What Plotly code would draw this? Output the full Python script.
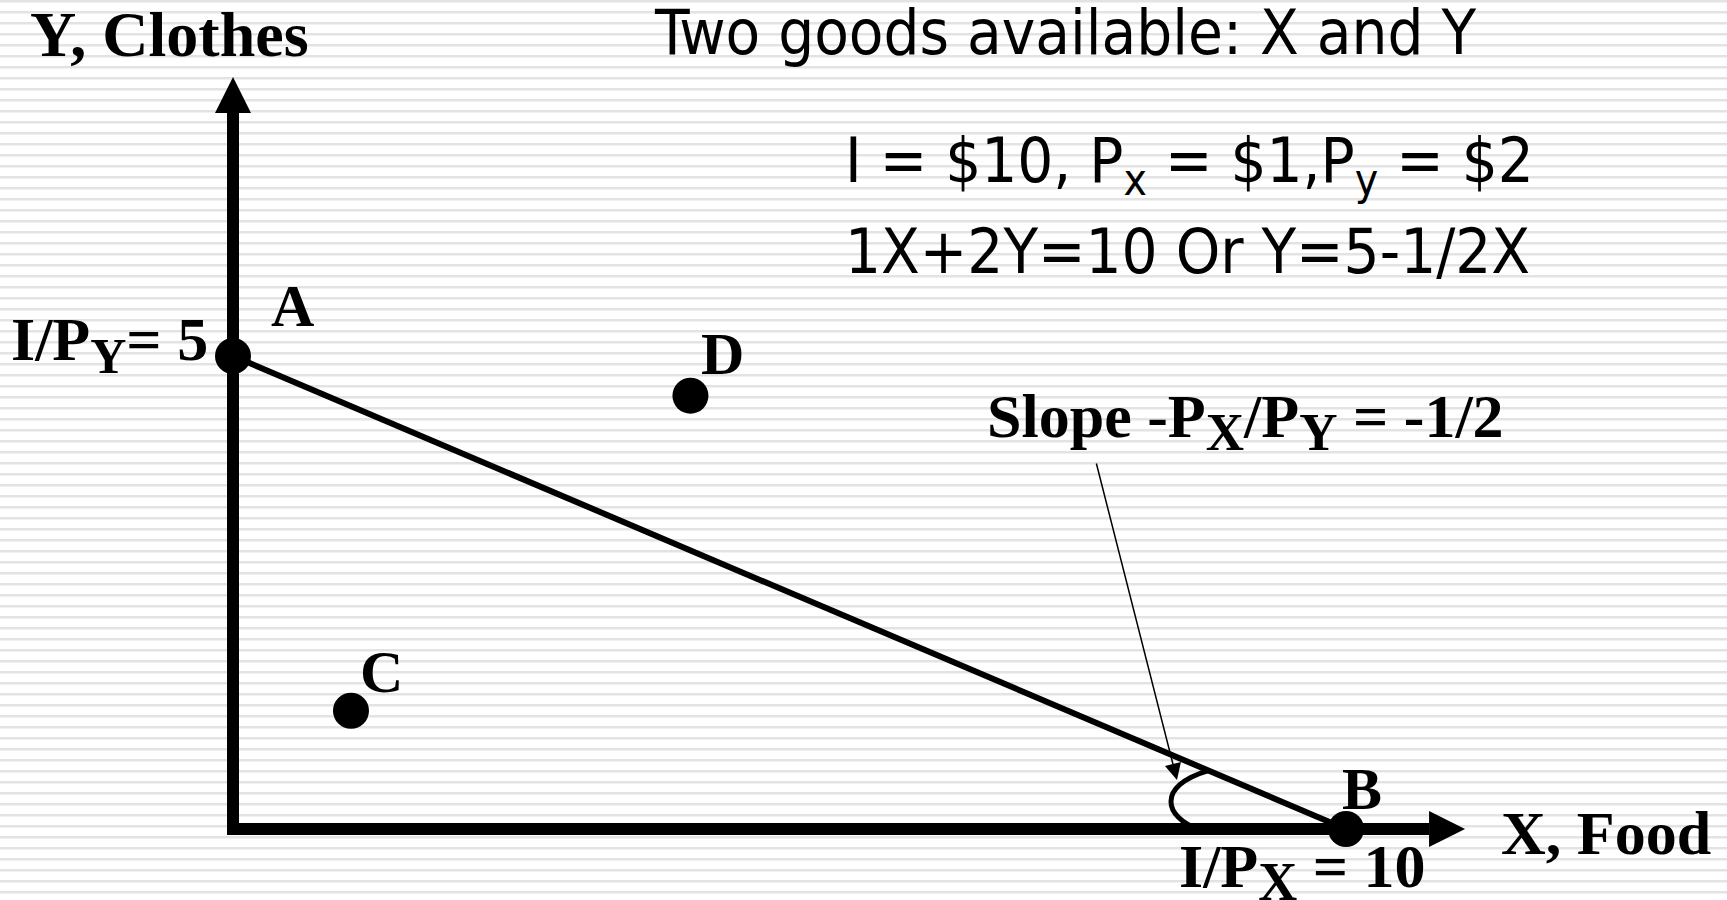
import plotly.graph_objects as go

# ---------------- canvas geometry ----------------
W, H = 1727, 900
ORIGIN_PX = (233, 829)      # pixel position of (0, 0)
X_UNIT_PX = 111.3           # pixels per unit of X
Y_UNIT_PX = 94.6            # pixels per unit of Y

# ---------------- data ----------------
budget_x = [0, 10]          # I/Px = 10
budget_y = [5, 0]           # I/Py = 5
point_labels = ["A", "B", "C", "D"]
point_x = [0, 10, 1.06, 4.11]
point_y = [5, 0, 1.25, 4.58]
axis_x_max = 11.07          # tip of X arrow
axis_y_max = 7.95           # tip of Y arrow
angle_arc = [(8.77, 0.62), (8.28, 0.45), (8.38, 0.12), (8.67, 0.0)]

x_range = [-ORIGIN_PX[0] / X_UNIT_PX, (W - ORIGIN_PX[0]) / X_UNIT_PX]
y_range = [-(H - ORIGIN_PX[1]) / Y_UNIT_PX, ORIGIN_PX[1] / Y_UNIT_PX]


def px(x):
    return x / W


def py(y):
    return 1 - y / H


SERIF = "Times New Roman, Liberation Serif, serif"
SANS = "DejaVu Sans Condensed, Liberation Sans Narrow, DejaVu Sans, sans-serif"

fig = go.Figure()

# budget line
fig.add_trace(go.Scatter(x=budget_x, y=budget_y, mode="lines",
                         line=dict(color="black", width=6), hoverinfo="skip"))
# points
fig.add_trace(go.Scatter(x=point_x, y=point_y, mode="markers",
                         marker=dict(color="black", size=36), hoverinfo="skip"))

shapes = []
# striped background
stripe_path = " ".join(f"M0,{py(11 * k + 1.2):.5f} L1,{py(11 * k + 1.2):.5f}" for k in range(0, 83))
shapes.append(dict(type="path", xref="paper", yref="paper", path=stripe_path,
                   line=dict(color="#e3e3e3", width=2.6), layer="below"))

# axes
head = 36
y_base = axis_y_max - head / Y_UNIT_PX
x_base = axis_x_max - head / X_UNIT_PX
shapes.append(dict(type="path", xref="x", yref="y",
                   path=f"M0,{y_base} L0,0 L{x_base},0",
                   line=dict(color="black", width=12), layer="below"))
hw = (head / 2) / X_UNIT_PX
hh = (head / 2) / Y_UNIT_PX
shapes.append(dict(type="path", xref="x", yref="y",
                   path=f"M{-hw},{y_base} L0,{axis_y_max} L{hw},{y_base} Z",
                   fillcolor="black", line=dict(width=0), layer="below"))
shapes.append(dict(type="path", xref="x", yref="y",
                   path=f"M{x_base},{-hh} L{axis_x_max},0 L{x_base},{hh} Z",
                   fillcolor="black", line=dict(width=0), layer="below"))
# angle arc
(a0, a1, a2, a3) = angle_arc
shapes.append(dict(type="path", xref="x", yref="y",
                   path=f"M{a0[0]},{a0[1]} C{a1[0]},{a1[1]} {a2[0]},{a2[1]} {a3[0]},{a3[1]}",
                   line=dict(color="black", width=5), layer="below"))

annotations = []


def label(text, x, y, size=60, family=SERIF, bold=True, xanchor="center", yanchor="middle"):
    annotations.append(dict(text=text, x=px(x), y=py(y), xref="paper", yref="paper",
                            xanchor=xanchor, yanchor=yanchor, showarrow=False,
                            font=dict(family=family, size=size, color="black",
                                      weight="bold" if bold else "normal")))


def sub(t, size):
    return f"<sub><span style='font-size:{size}px'>{t}</span></sub>"


label("Y, Clothes", 169, 34, size=64)
label("Two goods available: X and Y", 1065, 33, size=63, family=SANS, bold=False)
label("I = $10, P<sub>x</sub> = $1,P<sub>y</sub> = $2", 843, 164, size=63, family=SANS,
      bold=False, xanchor="left")
label("1X+2Y=10 Or Y=5-1/2X", 843, 251, size=63, family=SANS, bold=False, xanchor="left")
label("A", 292, 306, size=60)
label("I/P" + sub("Y", 50) + "= 5", 210, 344, size=62, xanchor="right")
label("D", 722, 354, size=60)
label("C", 381, 672, size=60)
label("B", 1362, 789, size=60)
label("X, Food", 1606, 833, size=62)
label("I/P" + sub("X", 54) + " = 10", 1302, 872, size=62)
label("Slope -P" + sub("X", 53) + "/P" + sub("Y", 53) + " = -1/2", 1245, 421, size=62)

# pointer arrow from the slope label to the angle
tip_x = (1177 - ORIGIN_PX[0]) / X_UNIT_PX
tip_y = (ORIGIN_PX[1] - 780) / Y_UNIT_PX
annotations.append(dict(x=tip_x, y=tip_y, xref="x", yref="y", ax=-81, ay=-318,
                        axref="pixel", ayref="pixel", text="", showarrow=True,
                        arrowhead=2, arrowsize=2.2, arrowwidth=1.5, arrowcolor="black"))

fig.update_layout(
    width=W, height=H, margin=dict(l=0, r=0, t=0, b=0),
    paper_bgcolor="white", plot_bgcolor="rgba(0,0,0,0)",
    showlegend=False, shapes=shapes, annotations=annotations,
    xaxis=dict(range=x_range, visible=False, fixedrange=True),
    yaxis=dict(range=y_range, visible=False, fixedrange=True),
)

fig.write_html("out.html", config={"displayModeBar": False},
               post_script="document.body.style.margin='0';document.body.style.overflow='hidden';")
